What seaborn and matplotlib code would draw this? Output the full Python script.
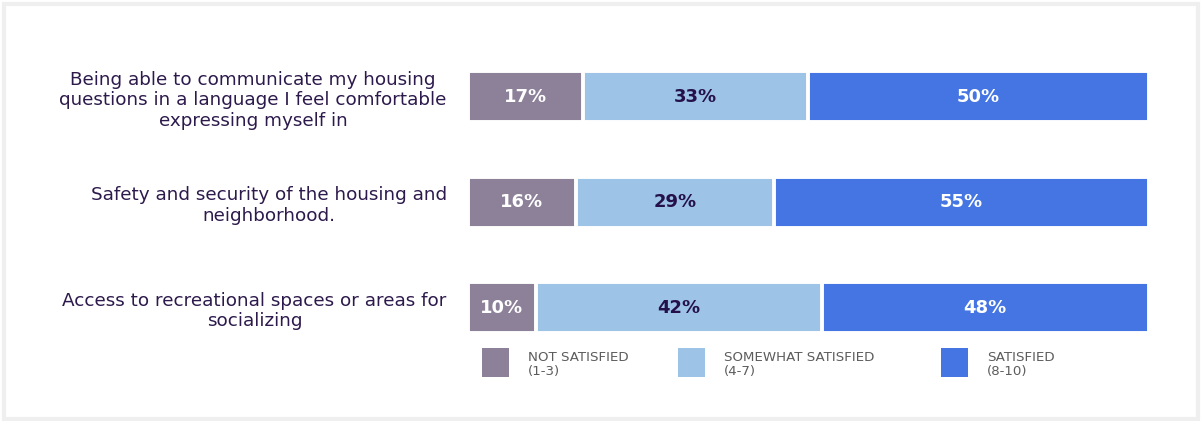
import matplotlib
matplotlib.use("Agg")
import matplotlib.pyplot as plt
from matplotlib.patches import Rectangle
import seaborn as sns
import pandas as pd
import numpy as np

# Survey results: share of respondents per satisfaction level (%)
categories = [
    "Being able to communicate my housing\nquestions in a language I feel comfortable\nexpressing myself in",
    "Safety and security of the housing and\nneighborhood.",
    "Access to recreational spaces or areas for\nsocializing",
]
not_satisfied = [17, 16, 10]
somewhat_satisfied = [33, 29, 42]
satisfied = [50, 55, 48]

levels = ["NOT SATISFIED\n(1-3)", "SOMEWHAT SATISFIED\n(4-7)", "SATISFIED\n(8-10)"]
colors = ["#8c8199", "#9dc3e7", "#4475e3"]
label_colors = ["white", "#24104a", "white"]
text_color = "#2d1a4c"

sns.set_theme(style="white")
plt.rcParams["font.family"] = ["DejaVu Sans"]

W, H = 1203, 421
fig = plt.figure(figsize=(W / 100, H / 100), dpi=100)

def fx(px):
    return px / W

def fy(py):
    return 1 - py / H

# axes spans the bar area; rows are one unit apart
ax = fig.add_axes([fx(467.5), fy(360.25), fx(1148.5) - fx(467.5), fy(44.25) - fy(360.25)])

series = [not_satisfied, somewhat_satisfied, satisfied]
cum = np.cumsum(np.array(series), axis=0)  # running totals per row

df = pd.DataFrame({"category": categories})
# draw the longest cumulative layer first so shorter layers sit on top
for i in reversed(range(len(series))):
    df["value"] = cum[i]
    sns.barplot(data=df, x="value", y="category", orient="h", color=colors[i],
                saturation=1, width=0.485, edgecolor="white", linewidth=2.8,
                ax=ax, zorder=2 + (len(series) - i))

starts = np.vstack([np.zeros(len(categories)), cum[:-1]])
for i, vals in enumerate(series):
    for r, v in enumerate(vals):
        ax.text(starts[i][r] + v / 2, r, f"{v}%", ha="center", va="center",
                fontsize=13, fontweight="bold", color=label_colors[i], zorder=10)

ax.set_xlim(0, 100)
ax.set_ylim(2.5, -0.5)
ax.set_xlabel("")
ax.set_ylabel("")
ax.set_xticks([])
for s in ax.spines.values():
    s.set_visible(False)
ax.tick_params(axis="y", length=0, pad=15)
for lab in ax.get_yticklabels():
    lab.set_multialignment("center")
    lab.set_fontsize(13.2)
    lab.set_color(text_color)
    lab.set_linespacing(1.2)

# legend row under the bars
sq_x = [482, 678, 941]
for x0, c, name in zip(sq_x, colors, levels):
    fig.add_artist(Rectangle((fx(x0), fy(377)), fx(27), fy(348) - fy(377),
                             transform=fig.transFigure, facecolor=c, edgecolor="none"))
    fig.text(fx(x0 + 46), fy(364.5), name, ha="left", va="center", fontsize=9.6,
             color="#5c5c5c", linespacing=1.05)

# light frame around the figure
fig.add_artist(Rectangle((fx(4), fy(419)), fx(1194), fy(4) - fy(419),
                         transform=fig.transFigure, facecolor="none",
                         edgecolor="#efefef", linewidth=3))

fig.savefig("out.png", dpi=100)
